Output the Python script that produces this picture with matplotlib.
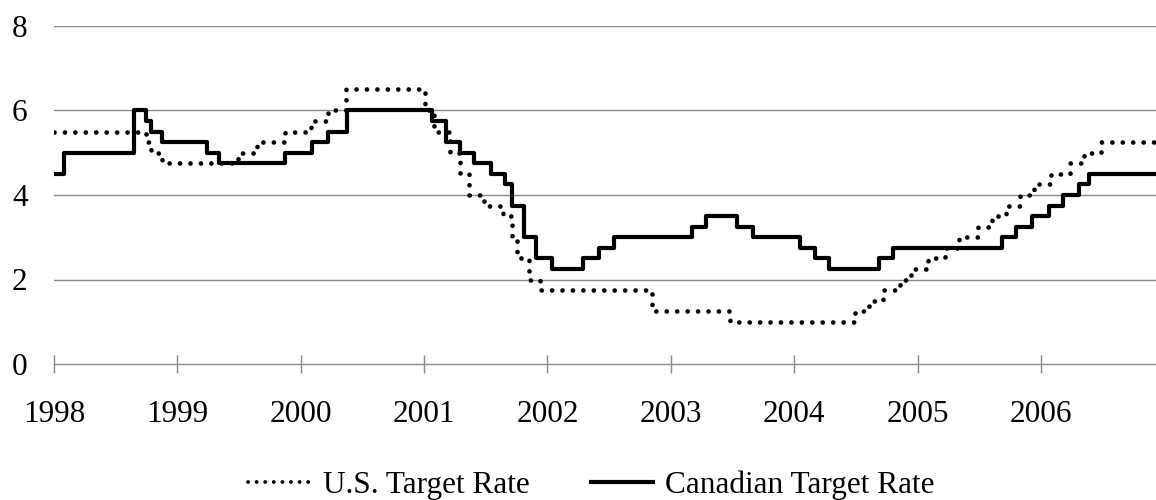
#! /usr/bin/env python3

import numpy as np
import pandas as pd
import matplotlib
matplotlib.use("Agg")
import matplotlib.pyplot as plt

plt.rcParams['font.family'] = ['Liberation Serif', 'DejaVu Serif']

# policy rate changes (date of change, new rate)
us_dates = ['1998-01-01', '1998-09-29', '1998-10-15', '1998-11-17', '1999-06-30',
            '1999-08-24', '1999-11-16', '2000-02-02', '2000-03-21', '2000-05-16',
            '2001-01-03', '2001-01-31', '2001-03-20', '2001-04-18', '2001-05-15',
            '2001-06-27', '2001-08-21', '2001-09-17', '2001-10-02', '2001-11-06',
            '2001-12-11', '2002-11-06', '2003-06-25', '2004-06-30', '2004-08-10',
            '2004-09-21', '2004-11-10', '2004-12-14', '2005-02-02', '2005-03-22',
            '2005-05-03', '2005-06-30', '2005-08-09', '2005-09-20', '2005-11-01',
            '2005-12-13', '2006-01-31', '2006-03-28', '2006-05-10', '2006-06-29']
us_rates = [5.50, 5.25, 5.00, 4.75, 5.00,
            5.25, 5.50, 5.75, 6.00, 6.50,
            6.00, 5.50, 5.00, 4.50, 4.00,
            3.75, 3.50, 3.00, 2.50, 2.00,
            1.75, 1.25, 1.00, 1.25, 1.50,
            1.75, 2.00, 2.25, 2.50, 2.75,
            3.00, 3.25, 3.50, 3.75, 4.00,
            4.25, 4.50, 4.75, 5.00, 5.25]

ca_dates = ['1998-01-01', '1998-01-30', '1998-08-27', '1998-09-30', '1998-10-16',
            '1998-11-18', '1999-03-31', '1999-05-04', '1999-11-17', '2000-02-03',
            '2000-03-22', '2000-05-17', '2001-01-23', '2001-03-06', '2001-04-17',
            '2001-05-29', '2001-07-17', '2001-08-28', '2001-09-17', '2001-10-23',
            '2001-11-27', '2002-01-15', '2002-04-16', '2002-06-04', '2002-07-16',
            '2003-03-04', '2003-04-15', '2003-07-15', '2003-09-03', '2004-01-20',
            '2004-03-02', '2004-04-13', '2004-09-08', '2004-10-19', '2005-09-07',
            '2005-10-18', '2005-12-06', '2006-01-24', '2006-03-07', '2006-04-25',
            '2006-05-24']
ca_rates = [4.50, 5.00, 6.00, 5.75, 5.50,
            5.25, 5.00, 4.75, 5.00, 5.25,
            5.50, 6.00, 5.75, 5.25, 5.00,
            4.75, 4.50, 4.25, 3.75, 3.00,
            2.50, 2.25, 2.50, 2.75, 3.00,
            3.25, 3.50, 3.25, 3.00, 2.75,
            2.50, 2.25, 2.50, 2.75, 3.00,
            3.25, 3.50, 3.75, 4.00, 4.25,
            4.50]

end_date = '2006-12-31'
years = list(range(1998, 2007))
y_ticks = [0, 2, 4, 6, 8]

us_x = pd.to_datetime(us_dates + [end_date])
us_y = us_rates + [us_rates[-1]]
ca_x = pd.to_datetime(ca_dates + [end_date])
ca_y = ca_rates + [ca_rates[-1]]

grid_col = '#888888'
fs = 22.5

fig = plt.figure(figsize=(11.56, 5.0), dpi=100)
ax = fig.add_axes([54/1156, 1 - 364/500, 1 - 54/1156, (364 - 26)/500])

ax.step(us_x, us_y, where='post', color='black', lw=3.4,
        linestyle=(0, (0.01, 2.2)), dash_capstyle='round', label='U.S. Target Rate')
ax.step(ca_x, ca_y, where='post', color='black', lw=3.0,
        solid_capstyle='butt', label='Canadian Target Rate')

ax.set_xlim(pd.Timestamp('1998-01-01'), pd.Timestamp('2006-12-08'))
ax.set_ylim(0, 8)
ax.set_yticks(y_ticks)
ax.set_xticks(pd.to_datetime([f'{y}-01-01' for y in years]))
ax.set_xticklabels([str(y) for y in years])

for v in y_ticks[1:]:
    ax.axhline(v, color=grid_col, lw=1.0, zorder=0)

for s in ['top', 'right', 'left']:
    ax.spines[s].set_visible(False)
ax.spines['bottom'].set_color(grid_col)
ax.spines['bottom'].set_linewidth(1.0)
ax.spines['bottom'].set_zorder(0)

ax.tick_params(axis='y', length=0, pad=19, labelsize=fs)
ax.tick_params(axis='x', direction='inout', length=13.5, width=1.0, color=grid_col,
               pad=19, labelsize=fs)

leg = fig.legend(loc='center', bbox_to_anchor=(591/1156, 1 - 485/500), ncol=2,
                 frameon=False, fontsize=fs, handlelength=2.1, handletextpad=0.32,
                 columnspacing=1.9, borderpad=0, borderaxespad=0)
leg.get_lines()[0].set_linewidth(2.8)

fig.savefig('out.png', dpi=100)
